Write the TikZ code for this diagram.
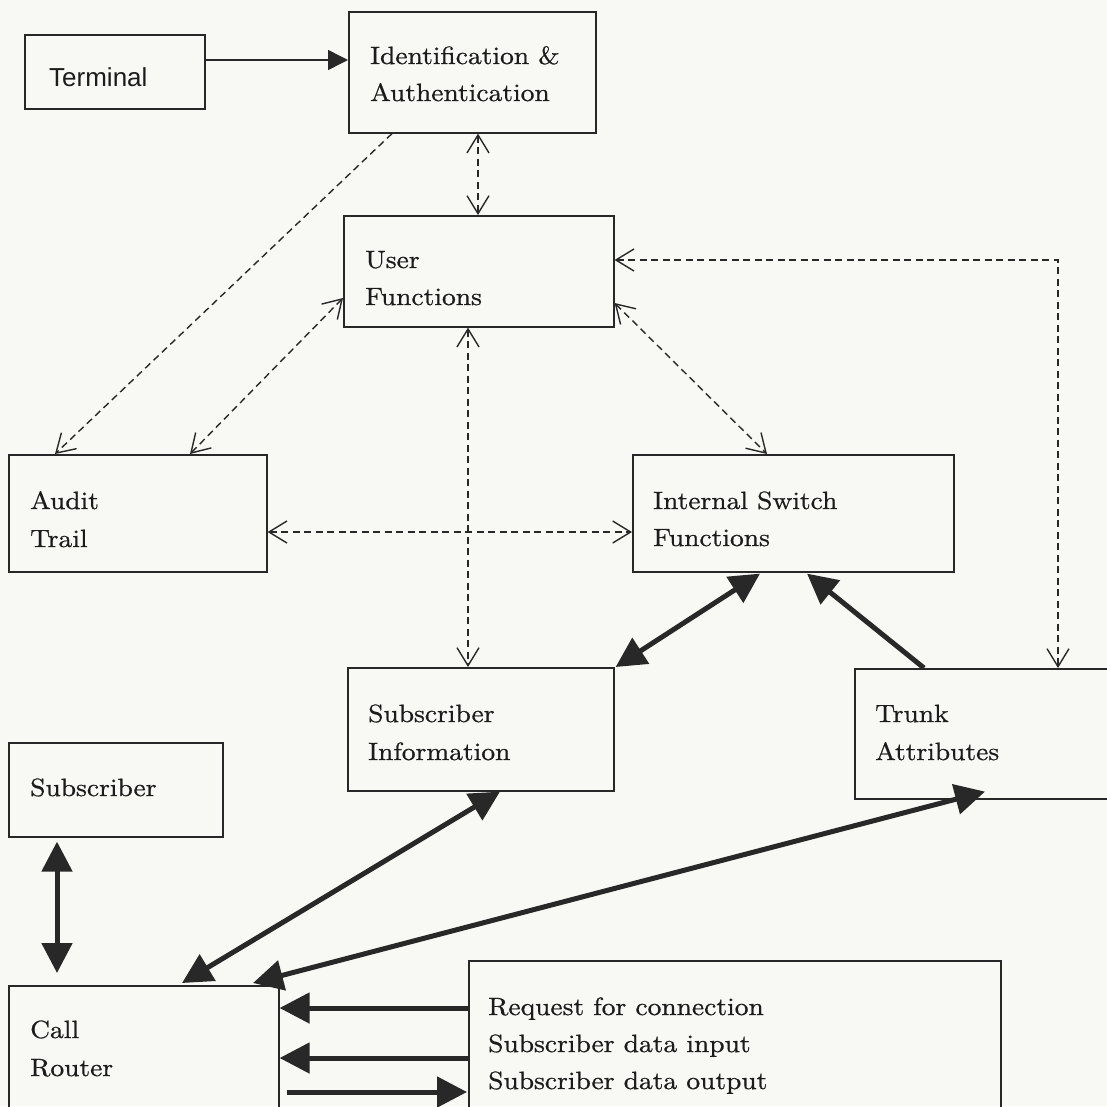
\documentclass[tikz,border=0pt]{standalone}
\usepackage{fontspec}
\setmainfont{lmroman10-regular.otf}[FakeStretch=1.1, FakeBold=0.7]
\newfontfamily\sansf{Liberation Sans}
\usetikzlibrary{arrows.meta,calc}
\definecolor{bg}{RGB}{248,248,245}
\definecolor{ink}{RGB}{40,40,40}
\definecolor{txt}{RGB}{28,28,28}
\begin{document}
\begin{tikzpicture}[x=1pt,y=-1pt,
  box/.style={draw=ink, line width=1.6pt, rectangle, inner sep=0pt, anchor=north west},
  lbl/.style={anchor=base west, inner sep=0pt, text=txt, font=\fontsize{25}{37}\selectfont},
  dsh/.style={draw=ink, line width=1.4pt, dash pattern=on 7pt off 4.5pt},
  vee/.tip={Straight Barb[length=18pt,width=22pt]},
  thk/.style={draw=ink, fill=ink, line width=5pt},
  big/.tip={Triangle[length=30pt,width=30pt]},
]
\clip (0,0) rectangle (1107,1106);
\fill[bg] (0,0) rectangle (1107,1106);

% boxes
\node[box, minimum width=180pt, minimum height=74pt] (term) at (24,34) {};
\node[box, minimum width=247pt, minimum height=121pt] (ident) at (348,11) {};
\node[box, minimum width=270pt, minimum height=111pt] (user) at (343,215) {};
\node[box, minimum width=258pt, minimum height=117pt] (audit) at (8,454) {};
\node[box, minimum width=321pt, minimum height=117pt] (internal) at (632,454) {};
\node[box, minimum width=266pt, minimum height=123pt] (subinfo) at (347,667) {};
\node[box, minimum width=270pt, minimum height=130pt] (trunk) at (854,668) {};
\node[box, minimum width=214pt, minimum height=94pt] (subscr) at (8,742) {};
\node[box, minimum width=270pt, minimum height=130pt] (router) at (8,985) {};
\node[box, minimum width=532pt, minimum height=155pt] (request) at (468,960) {};

% texts
\node[lbl, font=\sansf\fontsize{26}{30}\selectfont] (termT) at ($(term.north west)+(25,52)$) {Terminal};
\node[lbl] (identA) at ($(ident.north west)+(22,53)$) {Identification \&};
\node[lbl] (identB) at ($(ident.north west)+(22,90)$) {Authentication};
\node[lbl] (userA) at ($(user.north west)+(22,53)$) {User};
\node[lbl] (userB) at ($(user.north west)+(22,90)$) {Functions};
\node[lbl] (auditA) at ($(audit.north west)+(22,55)$) {Audit};
\node[lbl] (auditB) at ($(audit.north west)+(22,93)$) {Trail};
\node[lbl] (internalA) at ($(internal.north west)+(21,55)$) {Internal Switch};
\node[lbl] (internalB) at ($(internal.north west)+(21,92)$) {Functions};
\node[lbl] (subinfoA) at ($(subinfo.north west)+(21,55)$) {Subscriber};
\node[lbl] (subinfoB) at ($(subinfo.north west)+(21,93)$) {Information};
\node[lbl] (trunkA) at ($(trunk.north west)+(21,54)$) {Trunk};
\node[lbl] (trunkB) at ($(trunk.north west)+(21,92)$) {Attributes};
\node[lbl] (subscrA) at ($(subscr.north west)+(22,54)$) {Subscriber};
\node[lbl] (routerA) at ($(router.north west)+(22,53)$) {Call};
\node[lbl] (routerB) at ($(router.north west)+(22,91)$) {Router};
\node[lbl] (requestA) at ($(request.north west)+(20,55)$) {Request for connection};
\node[lbl] (requestB) at ($(request.north west)+(20,92)$) {Subscriber data input};
\node[lbl] (requestC) at ($(request.north west)+(20,129)$) {Subscriber data output};

% solid thin arrow
\draw[draw=ink, line width=1.5pt, -{Triangle[length=20pt,width=20pt]}, fill=ink]
  ($(term.north east)+(0,26)$) -- ($(ident.north west)+(0,49)$);

% dashed connectors
\draw[dsh, -vee] ($(ident.south west)+(44,0)$) -- ($(audit.north west)+(47,0)$);
\draw[dsh, vee-vee] ($(user.north west)+(0,83)$) -- ($(audit.north west)+(182,0)$);
\draw[dsh, vee-vee] ($(ident.south west)+(130,0)$) -- ($(user.north west)+(135,0)$);
\draw[dsh, vee-vee] ($(user.north east)+(0,88)$) -- ($(internal.north west)+(135,0)$);
\draw[dsh, vee-vee] ($(user.north east)+(0,45)$) -| ($(trunk.north west)+(204,0)$);
\draw[dsh, vee-vee] ($(user.south west)+(125,0)$) -- ($(subinfo.north west)+(121,0)$);
\draw[dsh, vee-vee] ($(audit.north east)+(0,78)$) -- ($(internal.north west)+(0,78)$);

% thick connectors
\draw[thk, big-big] ($(internal.south west)+(128,1)$) -- ($(subinfo.north east)+(1,0)$);
\draw[thk, -big] ($(trunk.north west)+(70,0)$) -- ($(internal.south west)+(175,1)$);
\draw[thk, big-big] ($(subscr.south west)+(49,4)$) -- ($(router.north west)+(49,-12)$);
\draw[thk, big-big] ($(subinfo.south west)+(153,0)$) -- ($(router.north west)+(174,-2)$);
\draw[thk, big-big] ($(trunk.south west)+(131,-8)$) -- ($(router.north west)+(245,-2)$);
\draw[thk, -big] ($(request.north west)+(0,48)$) -- ($(router.north east)+(0,23)$);
\draw[thk, -big] ($(request.north west)+(0,98)$) -- ($(router.north east)+(0,73)$);
\draw[thk, -big] ($(router.north east)+(7,107)$) -- ($(request.north west)+(-1,132)$);
\end{tikzpicture}
\end{document}
